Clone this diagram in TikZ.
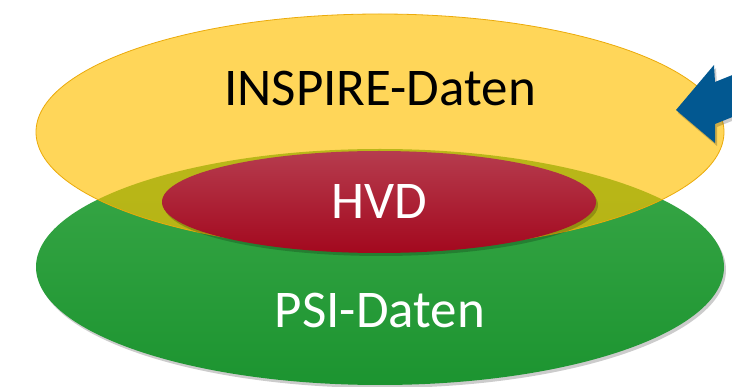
\documentclass[tikz,border=0pt]{standalone}
\usepackage{fontspec}
\setmainfont{Carlito}
\usetikzlibrary{shapes.geometric, shadows}

\definecolor{inspirefill}{RGB}{255,192,0}
\definecolor{inspireline}{RGB}{235,170,10}
\definecolor{psitop}{RGB}{58,168,72}
\definecolor{psibot}{RGB}{28,148,48}
\definecolor{hvdtop}{RGB}{182,60,78}
\definecolor{hvdbot}{RGB}{163,8,30}
\definecolor{pointblue}{RGB}{2,88,145}

\begin{document}
\begin{tikzpicture}[x=1pt, y=-1pt,
  blob/.style={ellipse, inner sep=0pt},
  soft/.style={drop shadow={shadow xshift=2pt, shadow yshift=-3pt, opacity=.2, fill=black}},
  lbl/.style={font=\fontsize{53}{60}\selectfont, anchor=base, inner sep=0pt}]
\useasboundingbox (0,0) rectangle (732,387);
\node[blob, soft, minimum width=688pt, minimum height=236pt, top color=psitop, bottom color=psibot] (psi) at (380,267) {};
\node[blob, minimum width=688pt, minimum height=236pt, fill=inspirefill, fill opacity=.65, draw=inspireline, line width=.8pt] (inspire) at (380,132) {};
\node[blob, soft, minimum width=434pt, minimum height=102pt, top color=hvdtop, bottom color=hvdbot, text=white, font=\fontsize{53}{60}\selectfont] (hvd) at (379,202) {HVD};
\node[lbl] (inspirelbl) at (380,106) {INSPIRE-Daten};
\node[lbl, text=white] (psilbl) at (380,328) {PSI-Daten};
% pointer from the right
\fill[pointblue, soft] (676,110) -- (714,65) -- (715,82) -- (745,70) -- (745,112) -- (715,124) -- (715,143) -- cycle;
\end{tikzpicture}
\end{document}
